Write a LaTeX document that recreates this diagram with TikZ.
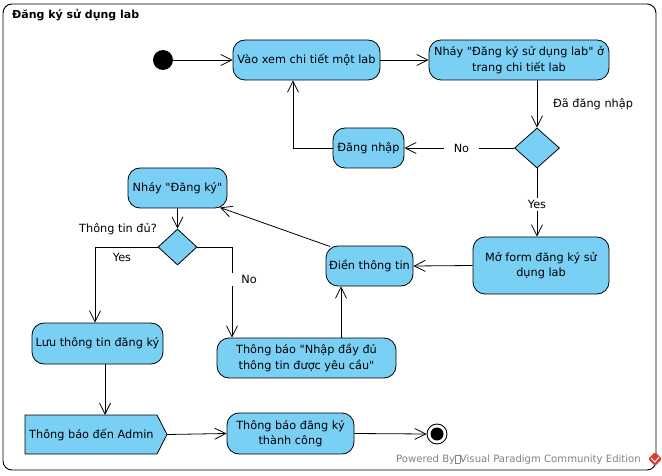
\documentclass[tikz,border=0pt]{standalone}
\usepackage{fontspec}
\setmainfont{DejaVu Sans}
\usetikzlibrary{arrows.meta,shapes.geometric}
\definecolor{actfill}{RGB}{122,207,245}
\definecolor{pgray}{RGB}{130,130,130}
\definecolor{logored}{RGB}{215,60,50}
\newcommand{\qq}{\textquotedbl}
\tikzset{
  act/.style={draw=black, fill=actfill, line width=0.8pt, rounded corners=12pt, align=center, inner sep=2pt, font=\fontsize{11.3}{15.5}\selectfont},
  dec/.style={draw=black, fill=actfill, line width=0.8pt, diamond, inner sep=0pt},
  arr/.style={line width=0.8pt, -{Straight Barb[length=11pt,width=11pt,line width=0.8pt]}},
  lbl/.style={fill=white, inner sep=2pt, font=\fontsize{11.3}{13}\selectfont},
  txt/.style={inner sep=0pt, font=\fontsize{11.3}{13}\selectfont},
}
\begin{document}
\begin{tikzpicture}[x=1pt,y=-1pt]
\useasboundingbox (0,0) rectangle (662,476);
% frame
\draw[line width=0.9pt, rounded corners=9pt] (3,4) rectangle (656,470);
\node[anchor=west, inner sep=0pt, font=\fontsize{11}{13}\selectfont\bfseries] (title) at (12,15) {Đăng ký sử dụng lab};

% nodes
\node[circle, fill=black, minimum size=20pt, inner sep=0pt] (start) at (163,60) {};
\node[act, minimum width=147pt, minimum height=40pt] (vao) at (306.5,60) {Vào xem chi tiết một lab};
\node[act, minimum width=180pt, minimum height=40pt] (nhay1) at (519,60) {Nháy \qq Đăng ký sử dụng lab\qq{} ở\\trang chi tiết lab};
\node[dec, minimum width=45pt, minimum height=40pt] (d1) at (537,148) {};
\node[act, minimum width=71pt, minimum height=40pt] (dangnhap) at (368.5,148) {Đăng nhập};
\node[act, minimum width=136pt, minimum height=57pt] (moform) at (541,265.5) {Mở form đăng ký sử\\dụng lab};
\node[act, minimum width=87pt, minimum height=40pt] (dien) at (369.5,266) {Điền thông tin};
\node[act, minimum width=99pt, minimum height=40pt] (nhay2) at (177.5,188) {Nháy \qq Đăng ký\qq};
\node[dec, minimum width=39pt, minimum height=36pt] (d2) at (177.5,247) {};
\node[act, minimum width=131pt, minimum height=41pt] (luu) at (97.5,343.5) {Lưu thông tin đăng ký};
\node[act, minimum width=179pt, minimum height=40pt] (tbnhap) at (306.5,358) {Thông báo \qq Nhập đầy đủ\\thông tin được yêu cầu\qq};
\node[act, minimum width=127pt, minimum height=41pt] (tbtc) at (290.5,433.5) {Thông báo đăng ký\\thành công};
% send signal
\draw[line width=0.8pt, fill=actfill] (25,415) -- (157,415) -- (167,434.5) -- (157,454) -- (25,454) -- cycle;
\node[txt, anchor=west] (admin) at (29,434.5) {Thông báo đến Admin};
\coordinate (admintop) at (105,415);
\coordinate (admintip) at (167,434.5);
% final
\node[circle, draw=black, line width=0.9pt, fill=white, minimum size=20pt, inner sep=0pt] (end) at (437,434) {};
\fill[black] (end.center) circle (6.5pt);

% labels
\node[txt, anchor=west] (lbldn) at (553,104) {Đã đăng nhập};
\node[txt, anchor=east] (lbltt) at (157,229) {Thông tin đủ?};
\node[txt] (lblyes2) at (122,257) {Yes};

% connectors
\draw[arr] (start) -- (vao);
\draw[arr] (vao) -- (nhay1);
\draw[arr] (nhay1.south -| d1) -- (d1.north);
\draw[arr] (d1.west) -- node[lbl, inner xsep=10pt, pos=0.48] {No} (dangnhap.east);
\coordinate (c1) at (293,148);
\draw[arr] (dangnhap.west) -- (c1) -- (c1 |- vao.south);
\draw[arr] (d1.south) -- node[lbl, pos=0.53] {Yes} (d1.south |- moform.north);
\draw[arr] (moform.west) -- (dien.east);
\coordinate (c2) at (341,338);
\draw[arr] (c2) -- (c2 |- dien.south);
\coordinate (c3) at (330,246.5);
\coordinate (c4) at (220,207.5);
\draw[arr] (c3) -- (c4);
\draw[arr] (nhay2.south) -- (d2.north);
\coordinate (c5) at (95,247);
\draw[arr] (d2.west) -- (c5) -- (c5 |- luu.north);
\coordinate (c6) at (232,247);
\draw[arr] (d2.east) -- (c6) -- node[lbl, pos=0.36, minimum width=38pt, xshift=17pt, text depth=0pt] {No} (c6 |- tbnhap.north);
\draw[arr] (105,364) -- (admintop);
\draw[arr] (admintip) -- (tbtc.west);
\draw[arr] (tbtc.east) -- (end.west);

% powered by
\node[anchor=east, inner sep=0pt, text=pgray, font=\fontsize{10.1}{11}\selectfont] (pw) at (641,460) {Powered By{\fboxsep=0pt\fboxrule=0.4pt\fbox{\vphantom{P}\hspace{4pt}}}Visual Paradigm Community Edition};
\fill[logored, rounded corners=1.5pt] (655,452) -- (662,459) -- (655,466) -- (648,459) -- cycle;
\draw[white, line width=1pt] (651,458) -- (655,462) -- (659,457);
\end{tikzpicture}
\end{document}
